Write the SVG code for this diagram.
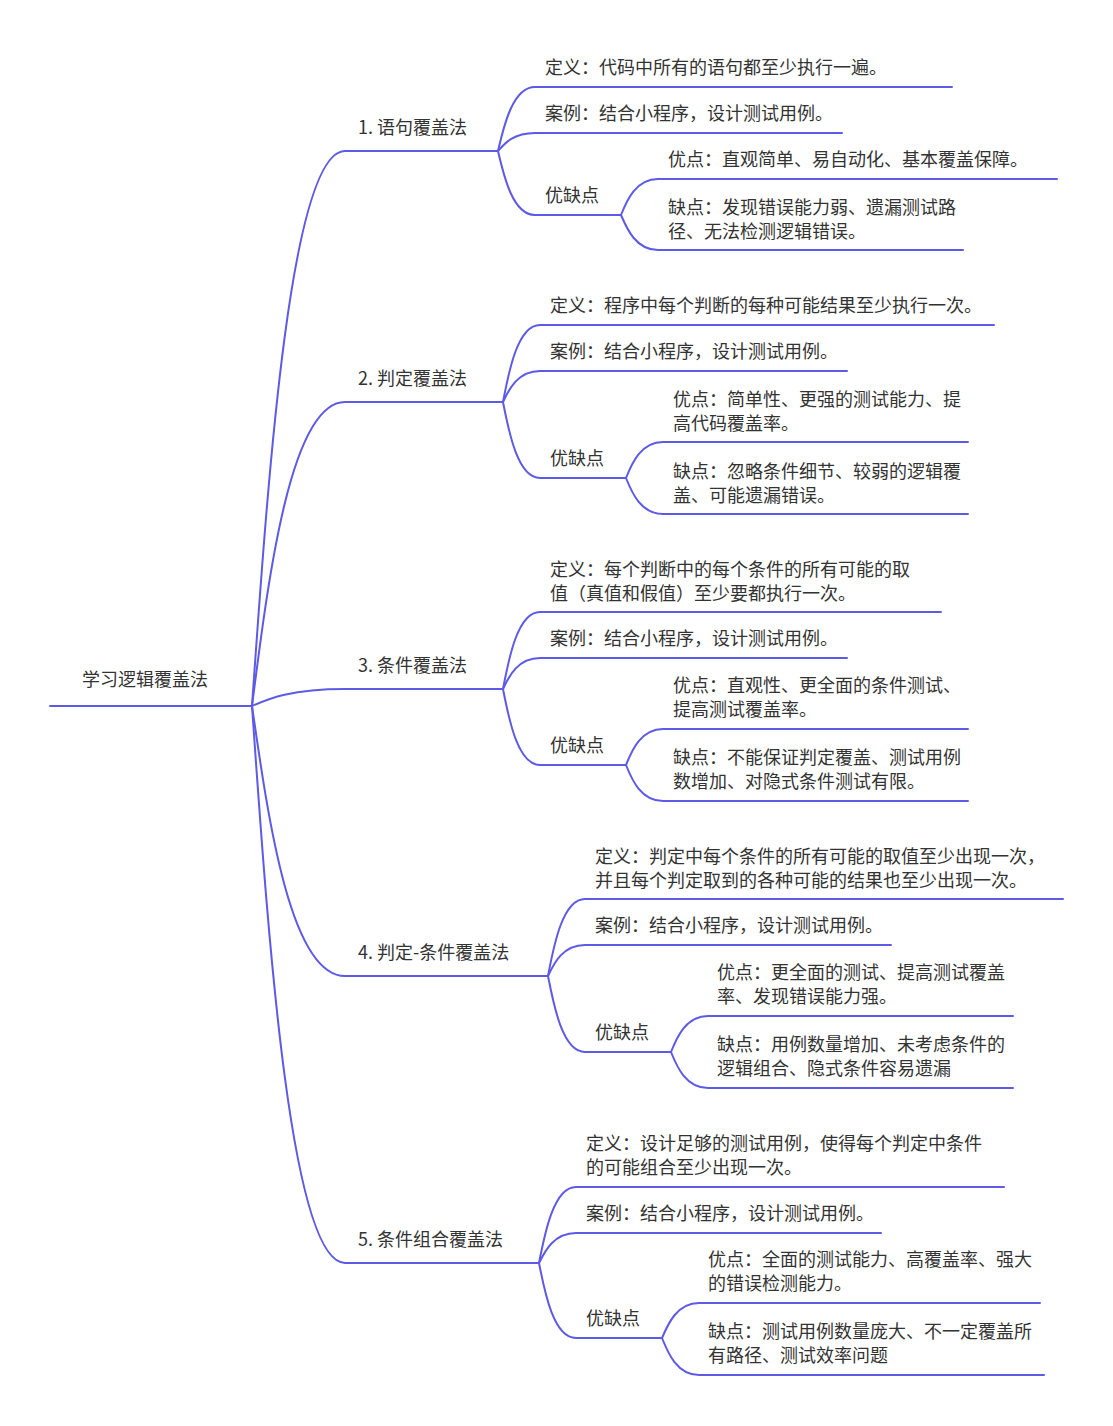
<svg xmlns="http://www.w3.org/2000/svg" width="1113" height="1426" viewBox="0 0 1113 1426">
<style>
.l{fill:none;stroke:#5d5ae6;stroke-width:2;stroke-linecap:round}
text{font-family:"Noto Sans CJK SC","Noto Sans",sans-serif;font-size:18px;fill:#333}
</style>
<rect width="1113" height="1426" fill="#fff"/>
<g id="connectors">
<path class="l" d="M50,706 L252,706"/>
<path class="l" d="M252,706 C268,478 290,151 345,151 L498,151"/>
<path class="l" d="M252,706 C268,581 290,402 345,402 L503,402"/>
<path class="l" d="M252,706 C268,699 290,689 345,689 L503,689"/>
<path class="l" d="M252,706 C268,817 290,976 345,976 L548,976"/>
<path class="l" d="M252,706 C268,934 290,1263 345,1263 L539,1263"/>
<path class="l" d="M498,151 C504,125 513,87 535,87 L952,87"/>
<path class="l" d="M498,151 C504,144 513,133 535,133 L842,133"/>
<path class="l" d="M498,151 C504,177 513,215 535,215 L621,215"/>
<path class="l" d="M621,215 C627,200 636,179 658,179 L1057,179"/>
<path class="l" d="M621,215 C627,229 636,250 658,250 L963,250"/>
<path class="l" d="M503,402 C509,370 518,325 540,325 L994,325"/>
<path class="l" d="M503,402 C509,389 518,371 540,371 L847,371"/>
<path class="l" d="M503,402 C509,433 518,478 540,478 L626,478"/>
<path class="l" d="M626,478 C632,463 641,442 663,442 L968,442"/>
<path class="l" d="M626,478 C632,493 641,514 663,514 L968,514"/>
<path class="l" d="M503,689 C509,657 518,612 540,612 L941,612"/>
<path class="l" d="M503,689 C509,676 518,658 540,658 L847,658"/>
<path class="l" d="M503,689 C509,720 518,765 540,765 L626,765"/>
<path class="l" d="M626,765 C632,750 641,729 663,729 L968,729"/>
<path class="l" d="M626,765 C632,780 641,801 663,801 L968,801"/>
<path class="l" d="M548,976 C554,944 563,899 585,899 L1063,899"/>
<path class="l" d="M548,976 C554,963 563,945 585,945 L891,945"/>
<path class="l" d="M548,976 C554,1007 563,1052 585,1052 L671,1052"/>
<path class="l" d="M671,1052 C677,1037 686,1016 708,1016 L1013,1016"/>
<path class="l" d="M671,1052 C677,1067 686,1088 708,1088 L1013,1088"/>
<path class="l" d="M539,1263 C545,1232 554,1187 576,1187 L1004,1187"/>
<path class="l" d="M539,1263 C545,1251 554,1233 576,1233 L881,1233"/>
<path class="l" d="M539,1263 C545,1294 554,1338 576,1338 L662,1338"/>
<path class="l" d="M662,1338 C668,1324 677,1303 699,1303 L1040,1303"/>
<path class="l" d="M662,1338 C668,1353 677,1375 699,1375 L1044,1375"/>
</g>
<g id="root"><text x="82" y="686">学习逻辑覆盖法</text></g>
<g id="n1">
<text x="358" y="134">1. 语句覆盖法</text>
<g id="n1-def"><text x="545" y="74">定义：代码中所有的语句都至少执行一遍。</text></g>
<g id="n1-case"><text x="545" y="120">案例：结合小程序，设计测试用例。</text></g>
<g id="n1-pc"><text x="545" y="202">优缺点</text></g>
<g id="n1-pro"><text x="668" y="166">优点：直观简单、易自动化、基本覆盖保障。</text></g>
<g id="n1-con"><text x="668" y="214">缺点：发现错误能力弱、遗漏测试路</text><text x="668" y="238">径、无法检测逻辑错误。</text></g>
</g>
<g id="n2">
<text x="358" y="385">2. 判定覆盖法</text>
<g id="n2-def"><text x="550" y="312">定义：程序中每个判断的每种可能结果至少执行一次。</text></g>
<g id="n2-case"><text x="550" y="358">案例：结合小程序，设计测试用例。</text></g>
<g id="n2-pc"><text x="550" y="465">优缺点</text></g>
<g id="n2-pro"><text x="673" y="406">优点：简单性、更强的测试能力、提</text><text x="673" y="430">高代码覆盖率。</text></g>
<g id="n2-con"><text x="673" y="478">缺点：忽略条件细节、较弱的逻辑覆</text><text x="673" y="502">盖、可能遗漏错误。</text></g>
</g>
<g id="n3">
<text x="358" y="672">3. 条件覆盖法</text>
<g id="n3-def"><text x="550" y="576">定义：每个判断中的每个条件的所有可能的取</text><text x="550" y="600">值（真值和假值）至少要都执行一次。</text></g>
<g id="n3-case"><text x="550" y="645">案例：结合小程序，设计测试用例。</text></g>
<g id="n3-pc"><text x="550" y="752">优缺点</text></g>
<g id="n3-pro"><text x="673" y="692">优点：直观性、更全面的条件测试、</text><text x="673" y="716">提高测试覆盖率。</text></g>
<g id="n3-con"><text x="673" y="764">缺点：不能保证判定覆盖、测试用例</text><text x="673" y="788">数增加、对隐式条件测试有限。</text></g>
</g>
<g id="n4">
<text x="358" y="959">4. 判定-条件覆盖法</text>
<g id="n4-def"><text x="595" y="863">定义：判定中每个条件的所有可能的取值至少出现一次，</text><text x="595" y="887">并且每个判定取到的各种可能的结果也至少出现一次。</text></g>
<g id="n4-case"><text x="595" y="932">案例：结合小程序，设计测试用例。</text></g>
<g id="n4-pc"><text x="595" y="1039">优缺点</text></g>
<g id="n4-pro"><text x="717" y="979">优点：更全面的测试、提高测试覆盖</text><text x="717" y="1003">率、发现错误能力强。</text></g>
<g id="n4-con"><text x="717" y="1051">缺点：用例数量增加、未考虑条件的</text><text x="717" y="1075">逻辑组合、隐式条件容易遗漏</text></g>
</g>
<g id="n5">
<text x="358" y="1246">5. 条件组合覆盖法</text>
<g id="n5-def"><text x="586" y="1150">定义：设计足够的测试用例，使得每个判定中条件</text><text x="586" y="1174">的可能组合至少出现一次。</text></g>
<g id="n5-case"><text x="586" y="1220">案例：结合小程序，设计测试用例。</text></g>
<g id="n5-pc"><text x="586" y="1325">优缺点</text></g>
<g id="n5-pro"><text x="708" y="1266">优点：全面的测试能力、高覆盖率、强大</text><text x="708" y="1290">的错误检测能力。</text></g>
<g id="n5-con"><text x="708" y="1338">缺点：测试用例数量庞大、不一定覆盖所</text><text x="708" y="1362">有路径、测试效率问题</text></g>
</g>
</svg>
